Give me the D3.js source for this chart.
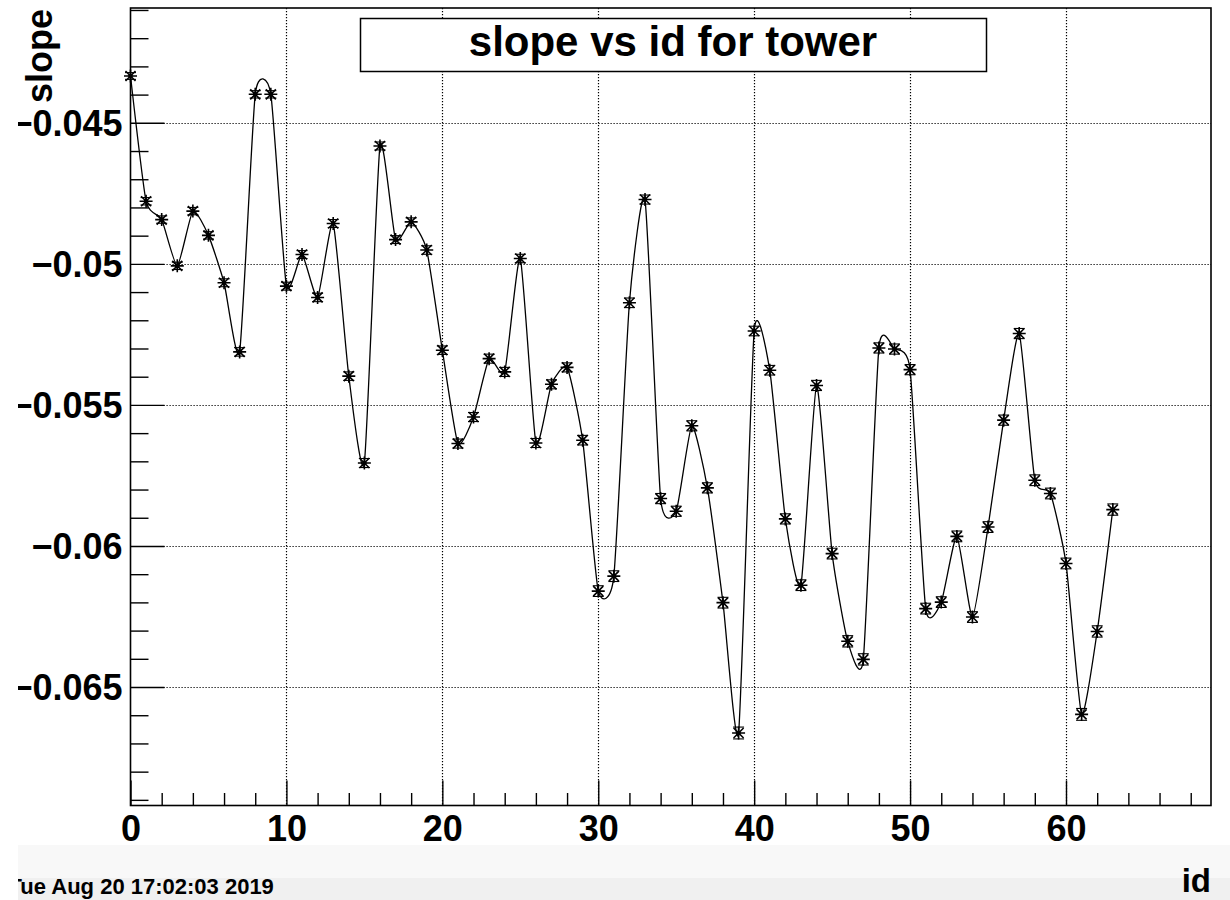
<!DOCTYPE html>
<html><head><meta charset="utf-8">
<script src="https://cdn.jsdelivr.net/npm/d3@7"></script>
<style>
body{margin:0;background:#fff}
text{font-family:"Liberation Sans",Arial,Helvetica,sans-serif;font-weight:bold;fill:#000}
</style>
</head><body>
<svg id="c" width="1230" height="900"></svg>
<script>
// ---- data ----
const ids = [0,1,2,3,4,5,6,7,8,9,10,11,12,13,14,15,16,17,18,19,20,21,22,23,24,25,26,27,28,29,30,31,
  32,33,34,35,36,37,38,39,40,41,42,43,44,45,46,47,48,49,50,51,52,53,54,55,56,57,58,59,60,61,62,63];
const slopes = [
  -0.04334,-0.04778,-0.04843,-0.05007,-0.04813,-0.04899,-0.05067,-0.05312,-0.04399,-0.04399,
  -0.05079,-0.04967,-0.05119,-0.04857,-0.05398,-0.05706,-0.04582,-0.04914,-0.04851,-0.04951,
  -0.05306,-0.05637,-0.05543,-0.05336,-0.05383,-0.04981,-0.05635,-0.05427,-0.05367,-0.05625,
  -0.06160,-0.06107,-0.05138,-0.04772,-0.05832,-0.05877,-0.05574,-0.05794,-0.06201,-0.06663,
  -0.05238,-0.05377,-0.05904,-0.06139,-0.05431,-0.06027,-0.06338,-0.06402,-0.05298,-0.05302,
  -0.05375,-0.06222,-0.06199,-0.05966,-0.06252,-0.05933,-0.05554,-0.05247,-0.05767,-0.05814,
  -0.06062,-0.06597,-0.06303,-0.05871];
const errors = [
  0.00012,0.00013,0.00013,0.00013,0.00013,0.00013,0.00014,0.00015,0.00013,0.00013,
  0.00014,0.00014,0.00015,0.00014,0.00015,0.00016,0.00014,0.00014,0.00014,0.00015,
  0.00015,0.00016,0.00016,0.00016,0.00016,0.00015,0.00016,0.00016,0.00016,0.00017,
  0.00019,0.00019,0.00017,0.00016,0.00018,0.00018,0.00018,0.00018,0.00019,0.00021,
  0.00017,0.00017,0.00018,0.00019,0.00018,0.00019,0.00020,0.00020,0.00018,0.00018,
  0.00018,0.00019,0.00019,0.00019,0.00019,0.00019,0.00018,0.00018,0.00019,0.00019,
  0.00019,0.00021,0.00020,0.00020];
const xTicks = [0,10,20,30,40,50,60];
const xMinorTicks = [2,4,6,8,12,14,16,18,22,24,26,28,32,34,36,38,42,44,46,48,52,54,56,58,62,64,66,68];
const yTicks = [-0.045,-0.05,-0.055,-0.06,-0.065];
const yMinorTicks = [-0.041,-0.042,-0.043,-0.044,-0.046,-0.047,-0.048,-0.049,-0.051,-0.052,-0.053,-0.054,
  -0.056,-0.057,-0.058,-0.059,-0.061,-0.062,-0.063,-0.064,-0.066,-0.067,-0.068,-0.069];
const xDomain = [0, 69.3];
const yDomain = [-0.0692, -0.04093];
const titleText = "slope vs id for tower";
const xTitle = "id";
const yTitle = "slope";
const dateText = "Tue Aug 20 17:02:03 2019";

// ---- layout ----
const L = 130.5, R = 1211, T = 8, B = 805.5;
const svg = d3.select("#c");
svg.append("defs").append("clipPath").attr("id","crop")
  .append("rect").attr("x",18).attr("y",0).attr("width",1212).attr("height",900);
const root = svg.append("g").attr("clip-path","url(#crop)");

const x = d3.scaleLinear().domain(xDomain).range([L, R]);
const y = d3.scaleLinear().domain(yDomain).range([B, T]);

// bottom status strip
root.append("rect").attr("x",18).attr("y",845).attr("width",1212).attr("height",33).attr("fill","#f8f8f8");
root.append("rect").attr("x",18).attr("y",878).attr("width",1212).attr("height",22).attr("fill","#f0f0f0");

// grid
const grid = root.append("g").attr("stroke","#000").attr("stroke-width",1.2).attr("stroke-dasharray","1.2,1.8");
grid.selectAll("line.gx").data(xTicks.filter(d=>d>0)).join("line")
  .attr("x1",d=>Math.round(x(d))+0.5).attr("x2",d=>Math.round(x(d))+0.5).attr("y1",T).attr("y2",B);
grid.selectAll("line.gy").data(yTicks).join("line")
  .attr("y1",d=>Math.round(y(d))+0.5).attr("y2",d=>Math.round(y(d))+0.5).attr("x1",L).attr("x2",R);

// axes
function styleAxis(g){ g.select(".domain").remove(); g.selectAll(".tick line").attr("stroke","#000").attr("stroke-width",1.4); }
root.append("g").attr("transform",`translate(${L},0)`)
  .call(d3.axisLeft(y).tickValues(yMinorTicks).tickSize(-18).tickFormat(""))
  .call(styleAxis);
const yAx = root.append("g").attr("transform",`translate(${L},0)`)
  .call(d3.axisLeft(y).tickValues(yTicks).tickSize(-34).tickPadding(8).tickFormat(d3.format(".3~f")))
  .call(styleAxis);
yAx.selectAll("text").attr("font-size",36).attr("font-family",null).attr("dy","0.36em");
root.append("g").attr("transform",`translate(0,${B})`)
  .call(d3.axisBottom(x).tickValues(xMinorTicks).tickSize(-12.5).tickFormat(""))
  .call(styleAxis);
const xAx = root.append("g").attr("transform",`translate(0,${B})`)
  .call(d3.axisBottom(x).tickValues(xTicks).tickSize(-25).tickPadding(10).tickFormat(d3.format("d")))
  .call(styleAxis);
xAx.selectAll("text").attr("font-size",36).attr("font-family",null).attr("dy","0.71em");

// curve
const pts = ids.map((d,i)=>({id:d, v:slopes[i], e:errors[i]}));
root.append("path").datum(pts)
  .attr("fill","none").attr("stroke","#000").attr("stroke-width",1.3)
  .attr("d", d3.line().x(d=>x(d.id)).y(d=>y(d.v)).curve(d3.curveCardinal.tension(0.45)));

// error bars
const eb = root.append("g").attr("stroke","#000").attr("stroke-width",1.1);
eb.selectAll("line.v").data(pts).join("line")
  .attr("x1",d=>x(d.id)).attr("x2",d=>x(d.id)).attr("y1",d=>y(d.v+d.e)).attr("y2",d=>y(d.v-d.e));
eb.selectAll("line.t").data(pts).join("line")
  .attr("x1",d=>x(d.id)-5.5).attr("x2",d=>x(d.id)+5.5).attr("y1",d=>y(d.v+d.e)).attr("y2",d=>y(d.v+d.e));
eb.selectAll("line.b").data(pts).join("line")
  .attr("x1",d=>x(d.id)-5.5).attr("x2",d=>x(d.id)+5.5).attr("y1",d=>y(d.v-d.e)).attr("y2",d=>y(d.v-d.e));

// asterisk markers
const s = 6.5, sd = 5;
const mk = root.append("g").attr("stroke","#000").attr("stroke-width",1.6);
mk.selectAll("path").data(pts).join("path")
  .attr("d", d=>{ const cx=x(d.id), cy=y(d.v);
    return `M${cx-s},${cy}H${cx+s}M${cx},${cy-s}V${cy+s}M${cx-sd},${cy-sd}L${cx+sd},${cy+sd}M${cx-sd},${cy+sd}L${cx+sd},${cy-sd}`; });
mk.selectAll("circle").data(pts).join("circle")
  .attr("cx",d=>x(d.id)).attr("cy",d=>y(d.v)).attr("r",2.2).attr("fill","#000").attr("stroke","none");

// frame
root.append("rect").attr("x",L).attr("y",T).attr("width",R-L).attr("height",B-T)
  .attr("fill","none").attr("stroke","#000").attr("stroke-width",1.6);

// title box
root.append("rect").attr("x",360.5).attr("y",18.5).attr("width",626).attr("height",53)
  .attr("fill","#fff").attr("stroke","#000").attr("stroke-width",1.5);
root.append("text").attr("x",673).attr("y",56).attr("text-anchor","middle").attr("font-size",42).text(titleText);

// axis titles
root.append("text").attr("transform","translate(52,9) rotate(-90)").attr("text-anchor","end")
  .attr("font-size",36).text(yTitle);
root.append("text").attr("x",1211).attr("y",892).attr("text-anchor","end").attr("font-size",33).text(xTitle);

// date
root.append("text").attr("x",8.5).attr("y",894).attr("font-size",22).text(dateText);
</script>
</body></html>
